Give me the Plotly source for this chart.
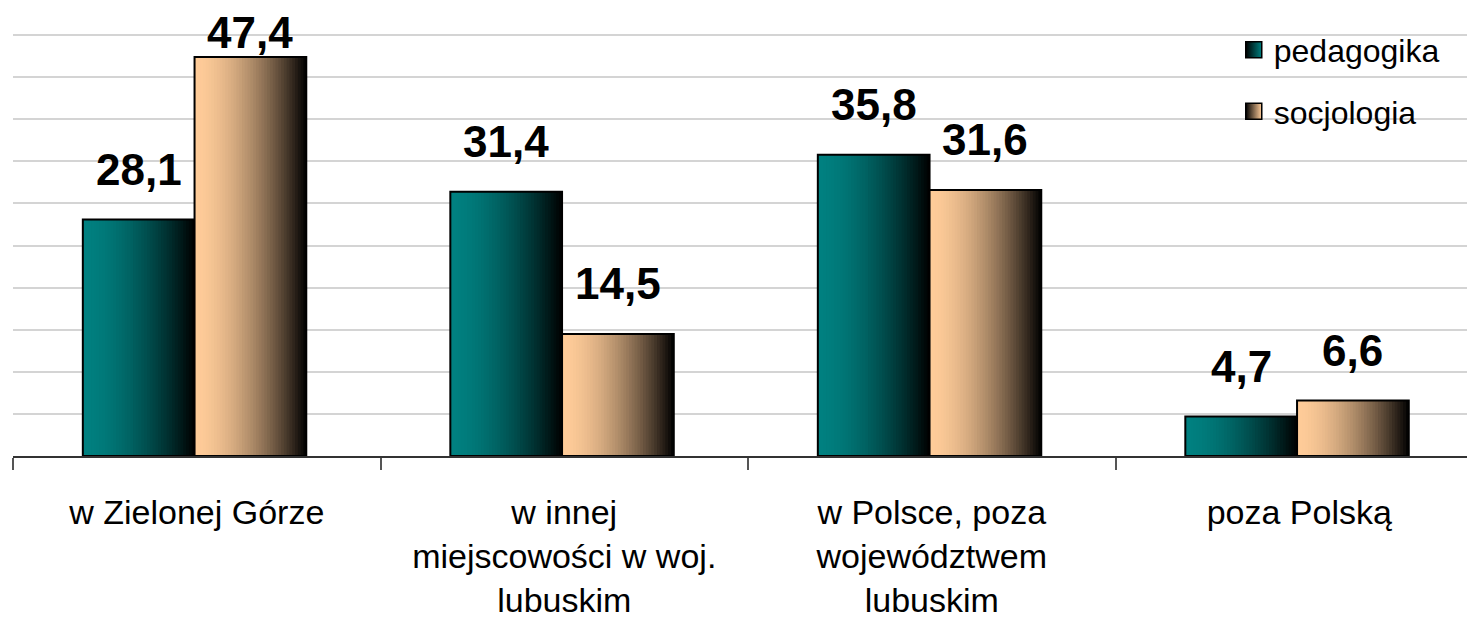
import plotly.graph_objects as go

categories = ["w Zielonej Górze",
              "w innej<br>miejscowości w woj.<br>lubuskim",
              "w Polsce, poza<br>województwem<br>lubuskim",
              "poza Polską"]
pedagogika = [28.1, 31.4, 35.8, 4.7]
socjologia = [47.4, 14.5, 31.6, 6.6]

series = [
    ("pedagogika", pedagogika, (0, 128, 128)),
    ("socjologia", socjologia, (255, 204, 153)),
]

W = 0.304          # bar width in category units
SH = -0.006        # small shift of the bar pair inside a category
N = 40             # slices used to fake the horizontal gradient
FONT = "Arial, Liberation Sans, sans-serif"

# page body has an 8px margin, so the figure is made a bit smaller
FIG_W, FIG_H = 1467, 619
M = dict(l=5, r=0, t=25, b=171)

x = list(range(len(categories)))
fig = go.Figure()


def shade(rgb, t):
    f = 1 - t ** 1.7
    return "rgb(%d,%d,%d)" % tuple(round(c * f) for c in rgb)


for i, (name, vals, rgb) in enumerate(series):
    left = -W + i * W + SH
    for k in range(N):
        fig.add_trace(go.Bar(
            x=x, y=vals, width=W - k * W / N, offset=left + k * W / N,
            marker=dict(color=shade(rgb, (k + 0.5) / N), line_width=0),
            showlegend=False, hoverinfo="skip"))
    fig.add_trace(go.Bar(
        x=x, y=vals, width=W, offset=left, name=name,
        marker=dict(color="rgba(0,0,0,0)", line=dict(color="black", width=2)),
        showlegend=False))
    # legend swatch
    fig.add_trace(go.Scatter(
        x=[None], y=[None], mode="markers", name=name, legendgroup=name,
        marker=dict(symbol="square", size=16, color="black",
                    gradient=dict(type="horizontal", color="rgb(%d,%d,%d)" % rgb),
                    line=dict(color="black", width=1.5))))

ymax = 50.25
plot_h = FIG_H - M["t"] - M["b"]
scale = plot_h / ymax
for i, (name, vals, rgb) in enumerate(series):
    for j, v in enumerate(vals):
        # labels near the top are pushed down so they stay inside the figure
        shift = min(50, (ymax - v) * scale)
        fig.add_annotation(
            x=j - W + i * W + SH + W / 2, y=v, yshift=shift,
            text=("%.1f" % v).replace(".", ","), showarrow=False,
            yanchor="middle", font=dict(family=FONT, size=44, color="black", weight="bold"))

fig.update_layout(
    width=FIG_W, height=FIG_H,
    margin=M,
    plot_bgcolor="white", paper_bgcolor="white",
    barmode="overlay",
    font=dict(family=FONT, color="black"),
    legend=dict(x=0.835, xanchor="left", y=1.025, yanchor="top",
                font=dict(size=32), tracegroupgap=17, bgcolor="rgba(0,0,0,0)"),
)
fig.update_xaxes(
    range=[-0.5, -0.5 + (FIG_W - M["l"] - M["r"]) / 367.5],
    tickvals=x, ticktext=categories, ticks="",
    tickfont=dict(size=34), showgrid=False, zeroline=False,
    showline=True, linecolor="#333333", linewidth=1.5,
    minor=dict(ticks="outside", tick0=-0.5, dtick=1, ticklen=12,
               tickcolor="#555555", tickwidth=1.5, showgrid=False),
    ticklabelstandoff=25,
)
fig.update_yaxes(
    range=[0, ymax], tick0=0, dtick=5, showticklabels=False, ticks="",
    gridcolor="#d4d4d4", gridwidth=1.5, zeroline=False,
)

fig.write_html("out.html")
